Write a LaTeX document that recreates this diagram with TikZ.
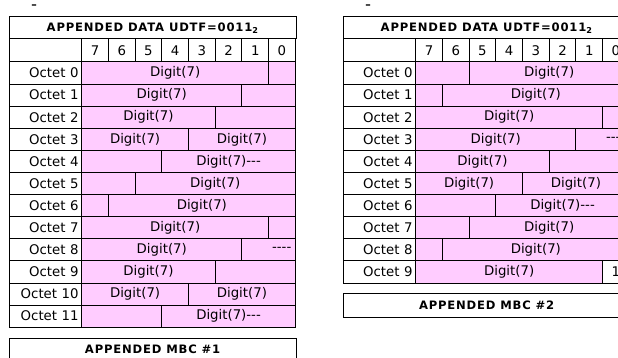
\documentclass[tikz,border=0pt]{standalone}
\usepackage{fontspec}
\setmainfont{DejaVu Sans}
\usetikzlibrary{positioning}
\definecolor{digitpink}{RGB}{255,204,255}
\newcommand{\cellfont}{\fontsize{13.3pt}{15pt}\selectfont}
\newcommand{\headfont}{\bfseries\fontsize{11.6pt}{13pt}\selectfont\addfontfeature{LetterSpace=7}}
\tikzset{
  cell/.style={draw, line width=1pt, fill=white, anchor=north west,
               inner sep=0pt, outer sep=0pt, font=\cellfont},
  titlebox/.style={cell, minimum width=286.7pt, minimum height=22.3pt, font=\headfont},
  octetbox/.style={cell, minimum width=72.4pt, minimum height=22.1pt,
                   text width=66pt, align=right},
  bitbox/.style={cell, minimum width=26.7pt, minimum height=23pt},
  segbox/.style={cell, fill=digitpink, minimum height=22.1pt, align=center},
  dashmark/.style={anchor=base, inner sep=0pt, font=\bfseries\fontsize{11pt}{12pt}\selectfont}
}

\begin{document}
\begin{tikzpicture}[x=1pt,y=-1pt]
  \useasboundingbox (0,0) rectangle (618,358);
  \clip (0,0) rectangle (618,358);

  % frame, bit header and octet labels of both tables
  \foreach \t/\xo/\n/\m in {L/9.3/12/1, R/343.3/10/2}{
    \pgfmathtruncatemacro{\last}{\n-1}
    \node[dashmark] (\t-dash) at (\xo+24.7,8.5) {–};
    \node[titlebox] (\t-title) at (\xo,16.7) {APPENDED DATA UDTF=0011\textsubscript{2}};
    \node[bitbox, minimum width=72.4pt] (\t-corner) at (\xo,39) {};
    \foreach \b in {0,...,7}{
      \pgfmathtruncatemacro{\bit}{7-\b}
      \node[bitbox] (\t-bit\bit) at (\xo+72.4+\b*26.7,39) {\bit};
    }
    \foreach \i in {0,...,\last}
      \node[octetbox] (\t-oct\i) at (\xo,62+\i*22.1) {Octet \i};
    \node[titlebox, minimum height=23.4pt] (\t-mbc) at (\xo,72.8+\n*22.1) {APPENDED MBC \#\m};
  }

  % digits of the first table
  \foreach \i/\cut/\lt/\rt in {0/7/Digit(7)/{}, 1/6/Digit(7)/{}, 2/5/Digit(7)/{},
      3/4/Digit(7)/Digit(7), 4/3/{}/Digit(7)-{}-{}-, 5/2/{}/Digit(7), 6/1/{}/Digit(7),
      7/7/Digit(7)/{}, 8/6/Digit(7)/\hfill-{}-{}-{}-, 9/5/Digit(7)/{},
      10/4/Digit(7)/Digit(7), 11/3/{}/Digit(7)-{}-{}-}{
    \pgfmathsetmacro{\wa}{\cut*26.7}
    \pgfmathsetmacro{\wb}{(8-\cut)*26.7}
    \pgfmathsetmacro{\ta}{\wa-8}
    \pgfmathsetmacro{\tb}{\wb-8}
    \node[segbox, minimum width=\wa pt, text width=\ta pt] (L-seg\i-a) at (81.7,62+\i*22.1) {\lt};
    \node[segbox, minimum width=\wb pt, text width=\tb pt] (L-seg\i-b) at (81.7+\wa,62+\i*22.1) {\rt};
  }

  % digits of the second table
  \foreach \i/\cut/\lt/\rt/\rf in {0/2/{}/Digit(7)/digitpink, 1/1/{}/Digit(7)/digitpink,
      2/7/Digit(7)/{}/digitpink, 3/6/Digit(7)/\hfill-{}-{}-{}-/digitpink,
      4/5/Digit(7)/{}/digitpink, 5/4/Digit(7)/Digit(7)/digitpink,
      6/3/{}/Digit(7)-{}-{}-/digitpink, 7/2/{}/Digit(7)/digitpink,
      8/1/{}/Digit(7)/digitpink, 9/7/Digit(7)/1/white}{
    \pgfmathsetmacro{\wa}{\cut*26.7}
    \pgfmathsetmacro{\wb}{(8-\cut)*26.7}
    \pgfmathsetmacro{\ta}{\wa-8}
    \pgfmathsetmacro{\tb}{\wb-8}
    \node[segbox, minimum width=\wa pt, text width=\ta pt] (R-seg\i-a) at (415.7,62+\i*22.1) {\lt};
    \node[segbox, fill=\rf, minimum width=\wb pt, text width=\tb pt] (R-seg\i-b) at (415.7+\wa,62+\i*22.1) {\rt};
  }
\end{tikzpicture}
\end{document}
